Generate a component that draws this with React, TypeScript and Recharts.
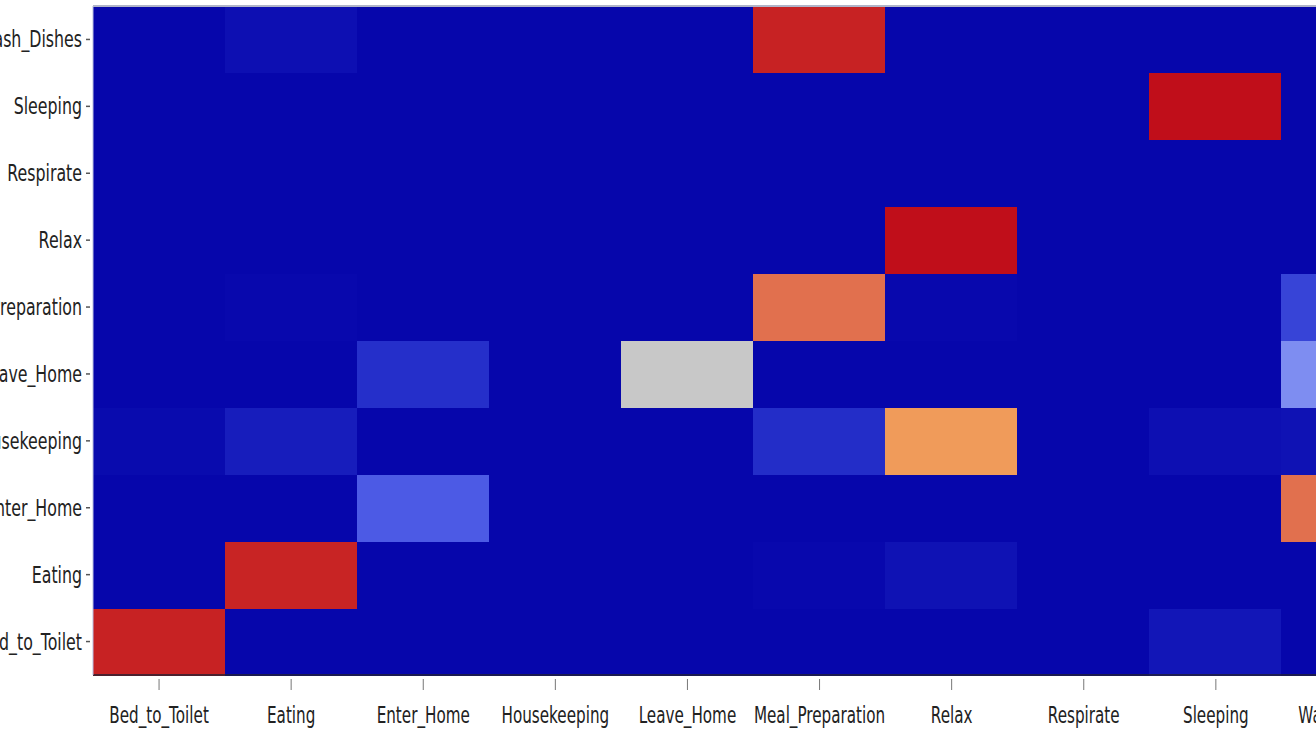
import React from 'react';
import { BarChart, Bar, Cell, XAxis, YAxis, ReferenceLine } from 'recharts';

// predicted activity (columns) and true activity (rows, bottom to top)
const predicted = [
  'Bed_to_Toilet', 'Eating', 'Enter_Home', 'Housekeeping', 'Leave_Home',
  'Meal_Preparation', 'Relax', 'Respirate', 'Sleeping', 'Wash_Dishes',
];
const actual = [
  'Bed_to_Toilet', 'Eating', 'Enter_Home', 'Housekeeping', 'Leave_Home',
  'Meal_Preparation', 'Relax', 'Respirate', 'Sleeping', 'Wash_Dishes',
];

// normalised confusion values, one list per true activity (same order as predicted)
const bedToToilet = [0.86, 0, 0, 0, 0, 0, 0, 0, 0.07, 0];
const eating = [0, 0.85, 0, 0, 0, 0.01, 0.05, 0, 0, 0];
const enterHome = [0, 0, 0.32, 0, 0, 0, 0, 0, 0, 0.7];
const housekeeping = [0.02, 0.1, 0, 0, 0, 0.17, 0.6, 0, 0.04, 0.05];
const leaveHome = [0, 0, 0.18, 0, 0.5, 0, 0, 0, 0, 0.44];
const mealPreparation = [0, 0.01, 0, 0, 0, 0.7, 0.01, 0, 0, 0.25];
const relax = [0, 0, 0, 0, 0, 0, 0.97, 0, 0, 0];
const respirate = [0, 0, 0, 0, 0, 0, 0, 0, 0, 0];
const sleeping = [0, 0, 0, 0, 0, 0, 0, 0, 0.97, 0];
const washDishes = [0, 0.04, 0, 0, 0, 0.86, 0, 0, 0, 0];

const matrix = [
  bedToToilet, eating, enterHome, housekeeping, leaveHome,
  mealPreparation, relax, respirate, sleeping, washDishes,
];

const stops: [number, number[]][] = [
  [0, [6, 6, 171]],
  [0.2, [40, 52, 205]],
  [0.35, [85, 100, 235]],
  [0.45, [130, 145, 242]],
  [0.5, [200, 200, 200]],
  [0.6, [240, 155, 90]],
  [0.7, [225, 112, 78]],
  [0.85, [200, 36, 36]],
  [1, [190, 8, 24]],
];

const colorFor = (v: number) => {
  for (let i = 1; i < stops.length; i++) {
    const [v1, c1] = stops[i];
    const [v0, c0] = stops[i - 1];
    if (v <= v1) {
      const t = (v - v0) / (v1 - v0);
      const c = c0.map((a, k) => Math.round(a + (c1[k] - a) * t));
      return `rgb(${c[0]},${c[1]},${c[2]})`;
    }
  }
  return 'rgb(190,8,24)';
};

// each true activity is one unit-high band of the stack
const data = predicted.map((name) => {
  const row: Record<string, string | number> = { name };
  actual.forEach((a) => { row[a] = 1; });
  return row;
});

const rowTicks = actual.map((_, i) => i + 0.5);
const font = '"DejaVu Sans", Verdana, sans-serif';

const XTick = ({ x, y, payload }: any) => (
  <g>
    <line x1={x} x2={x} y1={y + 4} y2={y + 15} stroke="#777" strokeWidth={1} />
    <g transform={`translate(${x},${y + 48}) scale(1,1.5)`}>
      <text textAnchor="middle" fontFamily={font} fontSize={15.2} fill="#222">
        {payload.value}
      </text>
    </g>
  </g>
);

const YTick = ({ x, y, payload }: any) => (
  <g>
    <line x1={x - 7} x2={x - 3} y1={y} y2={y} stroke="#555" strokeWidth={1.5} />
    <g transform={`translate(${x - 11},${y + 8}) scale(1,1.42)`}>
      <text textAnchor="end" fontFamily={font} fontSize={15.8} fill="#222">
        {actual[Math.floor(payload.value)]}
      </text>
    </g>
  </g>
);

export default function App() {
  return (
    <div style={{ position: 'absolute', left: 0, top: 0, width: 1316, height: 736, overflow: 'hidden', background: '#fff' }}>
      <div style={{ position: 'absolute', left: -27, top: 0 }}>
        <BarChart
          width={1451}
          height={736}
          data={data}
          margin={{ top: 6, right: 10, bottom: 0, left: 0 }}
          barCategoryGap={0}
          barGap={0}
        >
          <XAxis
            dataKey="name"
            height={61}
            tickSize={0}
            tickMargin={0}
            tickLine={false}
            axisLine={{ stroke: '#223', strokeWidth: 1.5 }}
            tick={<XTick />}
            interval={0}
          />
          <YAxis
            type="number"
            domain={[0, 10]}
            ticks={rowTicks}
            width={120}
            tickSize={0}
            tickMargin={0}
            tickLine={false}
            axisLine={{ stroke: '#b8bce0', strokeWidth: 1 }}
            tick={<YTick />}
            interval={0}
          />
          {actual.map((a, r) => (
            <Bar key={a} dataKey={a} stackId="cm" isAnimationActive={false}>
              {predicted.map((p, c) => {
                const fill = colorFor(matrix[r][c]);
                return (
                  <Cell key={p} fill={fill} stroke={fill} strokeWidth={1} shapeRendering="crispEdges" />
                );
              })}
            </Bar>
          ))}
          <ReferenceLine y={10} stroke="#b0b4c8" strokeWidth={2} />
        </BarChart>
      </div>
    </div>
  );
}
